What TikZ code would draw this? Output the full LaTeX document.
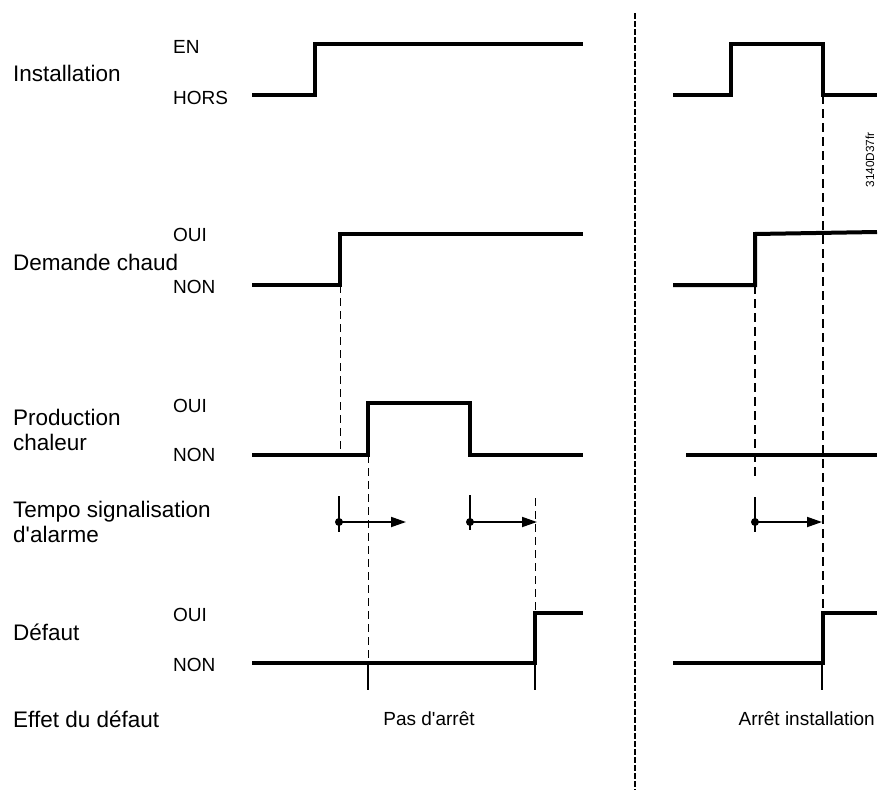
\documentclass[tikz,border=0pt]{standalone}
\usepackage{fontspec}
\setmainfont{Liberation Sans}
\usetikzlibrary{arrows.meta}

\begin{document}
\begin{tikzpicture}[x=1pt, y=-1pt,
  lbl/.style={anchor=west, inner sep=0pt, align=left, font=\fontsize{22.5}{25}\selectfont},
  lvl/.style={anchor=west, inner sep=0pt, font=\fontsize{19}{22}\selectfont},
  sig/.style={line width=4pt, line join=miter},
  guide/.style={line width=1pt, dash pattern=on 8pt off 5pt},
  guidebold/.style={line width=2pt, dash pattern=on 9pt off 5pt},
  tick/.style={line width=1.2pt},
  delay/.style={-{Triangle[length=15pt,width=10pt]}, line width=1.8pt}
]
\useasboundingbox (0,0) rectangle (879,790);

% --- row labels ---
\node[lbl] (l_inst) at (13,73) {Installation};
\node[lbl] (l_dem) at (13,262) {Demande chaud};
\node[lbl] (l_prod) at (13,430) {Production\\chaleur};
\node[lbl] (l_tempo) at (13,522) {Tempo signalisation\\d\textquotesingle alarme};
\node[lbl] (l_def) at (13,632) {Défaut};
\node[lbl] (l_eff) at (13,719) {Effet du défaut};

% --- level labels ---
\node[lvl] (v_en) at (173,47) {EN};
\node[lvl] (v_hors) at (173,98) {HORS};
\node[lvl] (v_dem1) at (173,235) {OUI};
\node[lvl] (v_dem0) at (173,287) {NON};
\node[lvl] (v_prod1) at (173,406) {OUI};
\node[lvl] (v_prod0) at (173,455) {NON};
\node[lvl] (v_def1) at (173,615) {OUI};
\node[lvl] (v_def0) at (173,665) {NON};

% --- edge points ---
\coordinate (dem_up) at (340,285);
\coordinate (prod_up) at (368,455);
\coordinate (prod_dn) at (470,455);
\coordinate (def_up) at (535,663);
\coordinate (inst_dn_r) at (823,95);
\coordinate (dem_up_r) at (755,285);
\coordinate (def_up_r) at (823,663);

% --- signals, left case ---
\draw[sig] (252,95) -- (315,95) -- (315,44) -- (583,44);
\draw[sig] (252,285) -- (dem_up) -- (340,234) -- (583,234);
\draw[sig] (252,455) -- (prod_up) -- (368,403) -- (470,403) -- (prod_dn) -- (583,455);
\draw[sig] (252,663) -- (def_up) -- (535,613) -- (583,613);

% --- signals, right case ---
\draw[sig] (673,95) -- (731,95) -- (731,44) -- (823,44) -- (inst_dn_r) -- (877,95);
\draw[sig] (673,285) -- (dem_up_r) -- (755,234) -- (877,232);
\draw[sig] (686,455) -- (877,455);
\draw[sig] (673,663) -- (def_up_r) -- (823,613) -- (877,613);

% --- guides, left case ---
\draw[guide] (dem_up) -- (340,455);
\draw[guide] (prod_up) -- (368,663);
\draw[tick] (368,663) -- (368,690);
\draw[guide] (535,498) -- (def_up);
\draw[tick] (def_up) -- (535,690);

% --- guides, right case ---
\draw[guidebold] (dem_up_r) -- (755,477);
\draw[guidebold] (inst_dn_r) -- (823,613);
\draw[tick] (822,663) -- (822,690);

% --- alarm delays ---
\draw[tick] (339,496) -- (339,532);
\fill (339,522) circle (4pt);
\draw[delay] (339,522) -- (406,522);
\draw[line width=2pt] (470,495) -- (470,530);
\fill (470,522) circle (4pt);
\draw[delay] (470,522) -- (537,522);
\draw[line width=2pt] (755,497) -- (755,532);
\fill (755,522) circle (4pt);
\draw[delay] (755,522) -- (822,522);

% --- separator and effects ---
\draw[line width=2.2pt, dash pattern=on 6pt off 2pt] (635,13) -- (635,790);
\node[lvl, anchor=center] (e_left) at (429,719) {Pas d\textquotesingle arrêt};
\node[lvl, anchor=east] (e_right) at (875,719) {Arrêt installation};
\node[rotate=90, inner sep=0pt, font=\fontsize{11.8}{13}\selectfont] (ref) at (870,160) {3140D37fr};
\end{tikzpicture}
\end{document}
